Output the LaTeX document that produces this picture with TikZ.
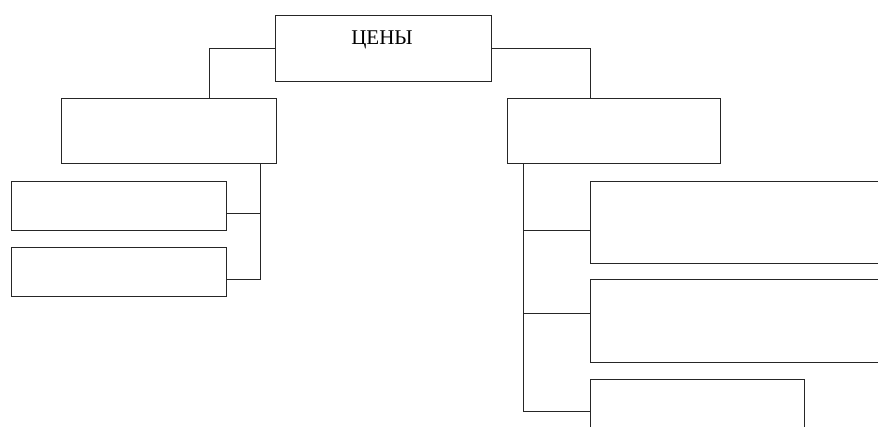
\documentclass[tikz,border=0pt]{standalone}
\usepackage{fontspec}
\setmainfont{Liberation Serif}
\begin{document}
\begin{tikzpicture}[x=1pt,y=-1pt,
  box/.style={draw=black!85,line width=1pt,anchor=north west,inner sep=0pt},
  conn/.style={draw=black!85,line width=1pt}]
\useasboundingbox (0,0) rectangle (878,427);
\clip (0,0) rectangle (878,427);
\node[box,minimum width=216pt,minimum height=66pt] (top) at (275,15) {};
\node[font=\fontsize{21}{24}\selectfont] (title) at (382,40) {ЦЕНЫ};
\node[box,minimum width=215pt,minimum height=65pt] (L) at (61,98) {};
\node[box,minimum width=213pt,minimum height=65pt] (R) at (507,98) {};
\node[box,minimum width=215pt,minimum height=49pt] (l1) at (11,181) {};
\node[box,minimum width=215pt,minimum height=49pt] (l2) at (11,247) {};
\node[box,minimum width=330pt,minimum height=82pt] (r1) at (590,181) {};
\node[box,minimum width=330pt,minimum height=83pt] (r2) at (590,279) {};
\node[box,minimum width=214pt,minimum height=100pt] (r3) at (590,379) {};
% top connectors
\draw[conn] (top.west) -| ([xshift=40.5pt]L.north);
\draw[conn] (top.east) -| ([xshift=-24pt]R.north);
% left bus
\draw[conn] ([xshift=-17pt]L.south east) |- ([yshift=-7.5pt]l2.east);
\draw[conn] ([yshift=-8pt]l1.east) -- +(33pt,0);
% right bus
\draw[conn] ([xshift=16pt]R.south west) |- ([yshift=-32pt]r3.north west);
\draw[conn] ([yshift=-8.5pt]r1.west) -- +(-67pt,0);
\draw[conn] ([yshift=7.5pt]r2.west) -- +(-67pt,0);
\end{tikzpicture}
\end{document}
